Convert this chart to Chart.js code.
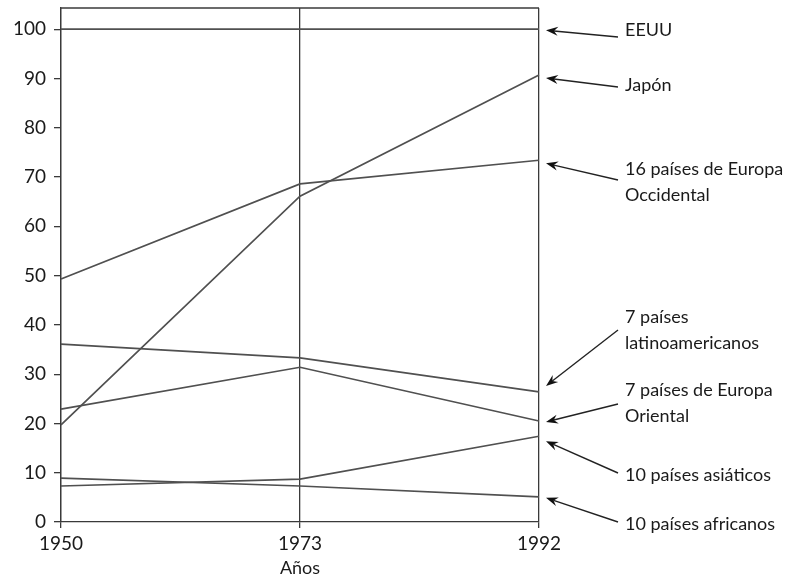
<!DOCTYPE html>
<html>
<head>
<meta charset="utf-8">
<script src="https://cdn.jsdelivr.net/npm/chart.js@4"></script>
<style>
  body { margin: 0; background: #fff; }
  #wrap { width: 787px; height: 583px; }
</style>
</head>
<body>
<div id="wrap"><canvas id="chart"></canvas></div>
<script>
const years = ['1950', '1973', '1992'];

const eeuu = [100, 100, 100];
const japon = [19.7, 66.1, 90.7];
const europaOcc = [49.3, 68.6, 73.4];
const latam = [36.1, 33.3, 26.4];
const europaOr = [22.9, 31.4, 20.5];
const asia = [7.3, 8.7, 17.4];
const africa = [8.9, 7.3, 5.1];

const seriesNames = ['EEUU', 'Japón', '16 países de Europa Occidental', '7 países latinoamericanos',
    '7 países de Europa Oriental', '10 países asiáticos', '10 países africanos'];
const seriesData = [eeuu, japon, europaOcc, latam, europaOr, asia, africa];

// label text lines + where the arrow/text sit to the right of the plot
const notes = [
    {lines: ['EEUU'], textY: 30, tailY: 37, tipDy: 1},
    {lines: ['Japón'], textY: 85, tailY: 87, tipDy: 3},
    {lines: ['16 países de Europa', 'Occidental'], textY: 169, tailY: 180, tipDy: 3},
    {lines: ['7 países', 'latinoamericanos'], textY: 317, tailY: 330, tipDy: -6},
    {lines: ['7 países de Europa', 'Oriental'], textY: 390, tailY: 404, tipDy: 1},
    {lines: ['10 países asiáticos'], textY: 475, tailY: 473, tipDy: 5},
    {lines: ['10 países africanos'], textY: 524, tailY: 522, tipDy: 1},
];

const lineColor = '#505050';
const axisColor = '#3a3a3a';
const fontFamily = 'Lato, "Open Sans", sans-serif';

const notesPlugin = {
    id: 'notes',
    afterDraw(chart) {
        const {ctx, chartArea, scales} = chart;
        ctx.save();
        // top frame line
        ctx.strokeStyle = axisColor;
        ctx.lineWidth = 1.3;
        ctx.beginPath();
        ctx.moveTo(chartArea.left, chartArea.top);
        ctx.lineTo(chartArea.right, chartArea.top);
        ctx.stroke();

        ctx.font = '18px ' + fontFamily;
        ctx.textBaseline = 'middle';
        notes.forEach((n, i) => {
            const data = seriesData[i];
            const tipX = chartArea.right + 7;
            const tipY = scales.y.getPixelForValue(data[data.length - 1]) + n.tipDy;
            const tailX = chartArea.right + 79;
            const tailY = n.tailY;
            const ang = Math.atan2(tipY - tailY, tipX - tailX);
            ctx.strokeStyle = '#222';
            ctx.lineWidth = 1.4;
            ctx.beginPath();
            ctx.moveTo(tailX, tailY);
            ctx.lineTo(tipX - 8 * Math.cos(ang), tipY - 8 * Math.sin(ang));
            ctx.stroke();
            const hl = 12, hw = 4.5;
            ctx.fillStyle = '#111';
            ctx.beginPath();
            ctx.moveTo(tipX, tipY);
            ctx.lineTo(tipX - hl * Math.cos(ang) + hw * Math.sin(ang), tipY - hl * Math.sin(ang) - hw * Math.cos(ang));
            ctx.lineTo(tipX - 8 * Math.cos(ang), tipY - 8 * Math.sin(ang));
            ctx.lineTo(tipX - hl * Math.cos(ang) - hw * Math.sin(ang), tipY - hl * Math.sin(ang) + hw * Math.cos(ang));
            ctx.closePath();
            ctx.fill();

            ctx.fillStyle = '#1a1a1a';
            n.lines.forEach((t, j) => {
                ctx.fillText(t, chartArea.right + 86, n.textY + j * 26);
            });
        });
        ctx.restore();
    }
};

new Chart(document.getElementById('chart'), {
    type: 'line',
    data: {
        labels: years,
        datasets: seriesData.map((d, i) => ({
            label: seriesNames[i],
            data: d,
            borderColor: lineColor,
            borderWidth: 1.7,
            pointRadius: 0,
            tension: 0,
            fill: false
        }))
    },
    options: {
        responsive: true,
        maintainAspectRatio: false,
        animation: false,
        layout: {padding: {top: 8, right: 248, left: 0, bottom: 0}},
        plugins: {legend: {display: false}, tooltip: {enabled: false}},
        scales: {
            x: {
                offset: false,
                grid: {color: axisColor, lineWidth: 1.3, tickLength: 6, drawOnChartArea: true},
                border: {color: axisColor, width: 1.3},
                ticks: {color: '#1a1a1a', font: {family: fontFamily, size: 19}, padding: 4, maxRotation: 0},
                title: {display: true, text: 'Años', color: '#1a1a1a', font: {family: fontFamily, size: 18}, padding: {top: 4}},
                afterFit(scale) { scale.height = 61; }
            },
            y: {
                min: 0,
                max: 104.3,
                afterBuildTicks(scale) {
                    scale.ticks = scale.ticks.filter(t => t.value <= 100 && t.value % 10 === 0);
                },
                grid: {drawOnChartArea: false, color: axisColor, lineWidth: 1.3, tickLength: 7},
                border: {color: axisColor, width: 1.3},
                ticks: {stepSize: 10, includeBounds: false, color: '#1a1a1a', font: {family: fontFamily, size: 19}, padding: 8},
                afterFit(scale) { scale.width = 61; scale.paddingTop = 0; }
            }
        }
    },
    plugins: [notesPlugin]
});
</script>
</body>
</html>
